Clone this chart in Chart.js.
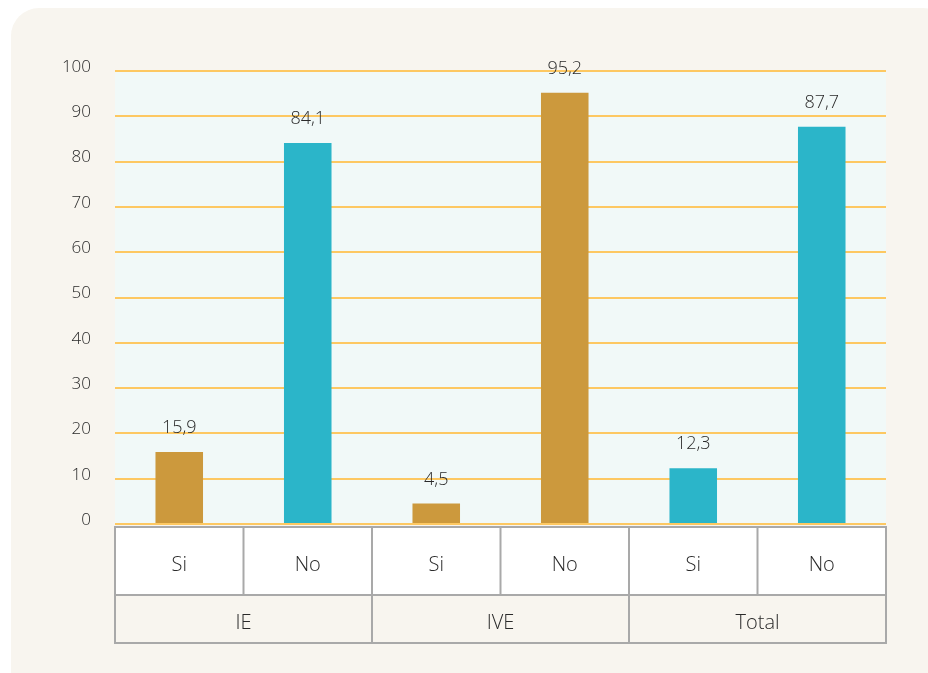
<!DOCTYPE html>
<html>
<head>
<meta charset="utf-8">
<script src="https://cdn.jsdelivr.net/npm/chart.js@4.4.1/dist/chart.umd.min.js"></script>
<style>
  body { margin: 0; background: #ffffff; width: 928px; height: 673px; overflow: hidden; position: relative; }
  .panel { position: absolute; left: 11px; top: 8px; width: 940px; height: 720px; background: #f8f5ef; border-radius: 28px; }
  #wrap { position: absolute; left: 0; top: 0; width: 928px; height: 673px; }
</style>
</head>
<body>
<div class="panel"></div>
<div id="wrap"><canvas id="chart"></canvas></div>
<script>
// data
const categories = ['Si', 'No', 'Si', 'No', 'Si', 'No'];
const groups = ['IE', 'IVE', 'Total'];
const values = [15.9, 84.1, 4.5, 95.2, 12.3, 87.7];
const yTicks = [0, 10, 20, 30, 40, 50, 60, 70, 80, 90, 100];

// colours per bar (gold / cyan as in the original)
const gold = '#cc993d', cyan = '#2bb5c9';
const barColors = [gold, cyan, gold, gold, cyan, cyan];

const textColor = '#2a2a2a';
const fontFamily = '"Open Sans", "Noto Sans", sans-serif';

// plot background
const plotBg = {
  id: 'plotBg',
  beforeDraw(chart) {
    const { ctx, chartArea: a } = chart;
    ctx.save();
    ctx.fillStyle = '#f1f9f8';
    ctx.fillRect(a.left, a.top, a.right - a.left, a.bottom - a.top);
    ctx.restore();
  }
};

// value labels above the bars
const valueLabels = {
  id: 'valueLabels',
  afterDatasetsDraw(chart) {
    const { ctx } = chart;
    const meta = chart.getDatasetMeta(0);
    ctx.save();
    ctx.fillStyle = textColor;
    ctx.font = '300 18px ' + fontFamily;
    ctx.textAlign = 'center';
    ctx.textBaseline = 'middle';
    meta.data.forEach((bar, i) => {
      ctx.fillText(values[i].toFixed(1).replace('.', ','), bar.x, bar.y - 24);
    });
    ctx.restore();
  }
};

// table with categories and groups under the plot
const catTable = {
  id: 'catTable',
  afterDraw(chart) {
    const { ctx, chartArea: a } = chart;
    const x = chart.scales.x;
    const step = (a.right - a.left) / categories.length;
    const top1 = a.bottom + 3, top2 = top1 + 68, bottom = top2 + 48;
    ctx.save();
    ctx.fillStyle = '#ffffff';
    ctx.fillRect(a.left, top1, a.right - a.left, top2 - top1);
    ctx.strokeStyle = '#a9a9a9';
    ctx.lineWidth = 2;
    ctx.strokeRect(a.left, top1, a.right - a.left, bottom - top1);
    ctx.beginPath();
    ctx.moveTo(a.left, top2); ctx.lineTo(a.right, top2);
    for (let i = 1; i < categories.length; i++) {
      const xx = a.left + step * i;
      ctx.moveTo(xx, top1);
      ctx.lineTo(xx, i % 2 === 0 ? bottom : top2);
    }
    ctx.stroke();
    ctx.fillStyle = textColor;
    ctx.font = '300 20px ' + fontFamily;
    ctx.textAlign = 'center';
    ctx.textBaseline = 'middle';
    categories.forEach((c, i) => {
      ctx.fillText(c, x.getPixelForValue(i), (top1 + top2) / 2 + 4);
    });
    groups.forEach((g, i) => {
      const cx = (x.getPixelForValue(i * 2) + x.getPixelForValue(i * 2 + 1)) / 2;
      ctx.fillText(g, cx, (top2 + bottom) / 2 + 4);
    });
    ctx.restore();
  }
};

new Chart(document.getElementById('chart'), {
  type: 'bar',
  data: {
    labels: categories,
    datasets: [{
      data: values,
      backgroundColor: barColors,
      borderWidth: 0,
      barPercentage: 0.37,
      categoryPercentage: 1
    }]
  },
  options: {
    responsive: true,
    maintainAspectRatio: false,
    animation: false,
    layout: { padding: { top: 71, right: 42, bottom: 149, left: 0 } },
    plugins: { legend: { display: false }, tooltip: { enabled: false } },
    scales: {
      x: { display: false },
      y: {
        min: 0,
        max: 100,
        afterFit(scale) { scale.width = 115; },
        afterBuildTicks(scale) { scale.ticks = yTicks.map(v => ({ value: v })); },
        border: { display: false },
        grid: { color: '#fdc862', lineWidth: 2, drawTicks: false },
        ticks: {
          padding: 24,
          labelOffset: -4,
          color: textColor,
          font: { family: fontFamily, size: 17, weight: 300 }
        }
      }
    }
  },
  plugins: [plotBg, valueLabels, catTable]
});
</script>
</body>
</html>
